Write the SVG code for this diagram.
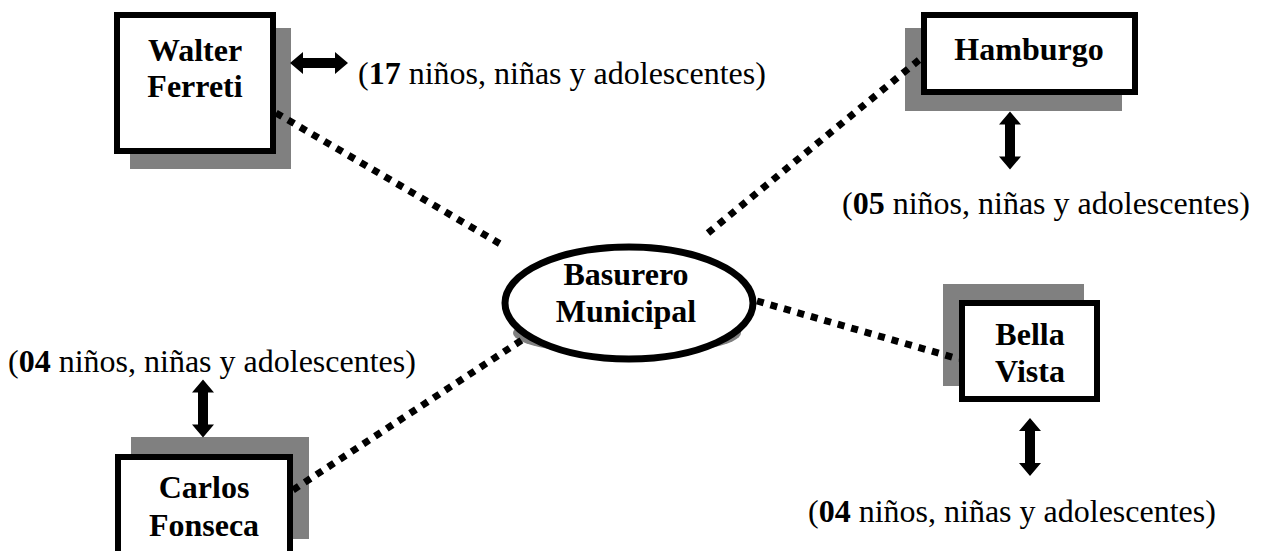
<svg xmlns="http://www.w3.org/2000/svg" xmlns:xlink="http://www.w3.org/1999/xlink" width="1262" height="551" viewBox="0 0 1262 551">
<style>
.box{fill:#fff;stroke:#000;stroke-width:6}
.shadow{fill:#808080}
.name{font-family:"Liberation Serif","Times New Roman",serif;font-size:32px;font-weight:bold;text-anchor:middle;fill:#000}
.lbl{font-family:"Liberation Serif","Times New Roman",serif;font-size:32px;fill:#000}
.lbl tspan.b{font-weight:bold}
.dot{fill:none;stroke:#000;stroke-width:7;stroke-dasharray:7 7}
</style>
<defs>
<path id="darrow" d="M0,-29 L11,-16 L5,-16 L5,16 L11,16 L0,29 L-11,16 L-5,16 L-5,-16 L-11,-16 Z" fill="#000"/>
</defs>
<rect width="1262" height="551" fill="#fff"/>
<g id="basurero">
<ellipse class="shadow" cx="627" cy="333" rx="114" ry="22"/>
<ellipse cx="629" cy="303" rx="124" ry="56" fill="#fff" stroke="#000" stroke-width="7"/>
<text class="name" x="626" y="285">Basurero</text>
<text class="name" x="626" y="322">Municipal</text>
</g>
<g id="walter">
<rect class="shadow" x="130" y="28" width="161" height="141"/>
<rect class="box" x="117" y="15" width="156" height="136"/>
<text class="name" x="195" y="61">Walter</text>
<text class="name" x="195" y="97">Ferreti</text>
</g>
<g id="hamburgo">
<rect class="shadow" x="905" y="28" width="217" height="83"/>
<rect class="box" x="924" y="15" width="211" height="77"/>
<text class="name" x="1029" y="60">Hamburgo</text>
</g>
<g id="bellavista">
<rect class="shadow" x="943" y="284" width="141" height="102"/>
<rect class="box" x="962" y="303" width="135" height="96"/>
<text class="name" x="1030" y="345">Bella</text>
<text class="name" x="1030" y="382">Vista</text>
</g>
<g id="carlos">
<rect class="shadow" x="131" y="437" width="178" height="102"/>
<rect class="box" x="118" y="457" width="172" height="100"/>
<text class="name" x="204" y="498">Carlos</text>
<text class="name" x="204" y="536">Fonseca</text>
</g>
<g id="connectors">
<line class="dot" x1="276" y1="113" x2="502" y2="245"/>
<line class="dot" x1="919" y1="60" x2="708" y2="233"/>
<line class="dot" x1="757" y1="301" x2="959" y2="359"/>
<line class="dot" x1="293" y1="490" x2="522" y2="340"/>
<use xlink:href="#darrow" transform="translate(319,63) rotate(90)"/>
<use xlink:href="#darrow" transform="translate(1010,140.5)"/>
<use xlink:href="#darrow" transform="translate(1030,447)"/>
<use xlink:href="#darrow" transform="translate(203,408.5)"/>
</g>
<g id="labels">
<text class="lbl" x="358" y="84">(<tspan class="b">17</tspan> niños, niñas y adolescentes)</text>
<text class="lbl" x="842" y="214">(<tspan class="b">05</tspan> niños, niñas y adolescentes)</text>
<text class="lbl" x="8" y="372">(<tspan class="b">04</tspan> niños, niñas y adolescentes)</text>
<text class="lbl" x="808" y="522">(<tspan class="b">04</tspan> niños, niñas y adolescentes)</text>
</g>
</svg>
